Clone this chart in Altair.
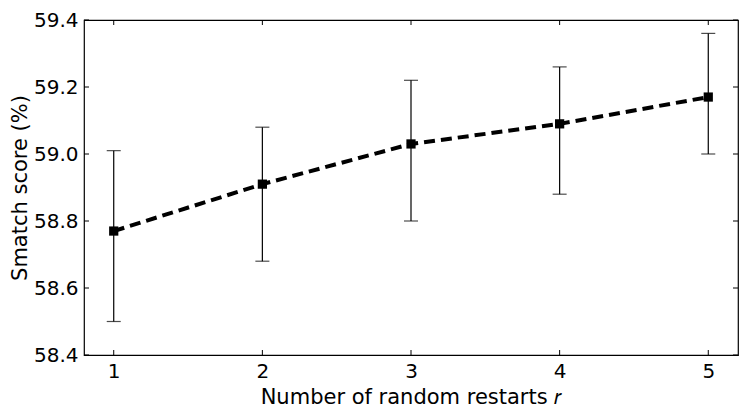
import altair as alt
import pandas as pd

restarts = [1, 2, 3, 4, 5]
score = [58.77, 58.91, 59.03, 59.09, 59.17]
err_lo = [58.50, 58.68, 58.80, 58.88, 59.00]
err_hi = [59.01, 59.08, 59.22, 59.26, 59.36]

x_ticks = [1, 2, 3, 4, 5]
y_ticks = [58.4, 58.6, 58.8, 59.0, 59.2, 59.4]

W, H = 654, 335
FONT = "DejaVu Sans"
TL = 5

df = pd.DataFrame({"r": restarts, "s": score, "lo": err_lo, "hi": err_hi})
dfx = pd.DataFrame({"t": x_ticks})
dfy = pd.DataFrame({"t": y_ticks})

xs = alt.Scale(domain=[0.8, 5.2], nice=False, zero=False)
ys = alt.Scale(domain=[58.4, 59.4], nice=False, zero=False)

xaxis = alt.Axis(values=x_ticks, format="d", ticks=False, domain=False, grid=False,
                 labelFont=FONT, labelFontSize=20, labelColor="#000", labelPadding=6,
                 title="Number of random restarts 𝑟", titleFont=FONT, titleFontSize=21,
                 titleFontWeight="normal", titleColor="#000", titlePadding=5)
yaxis = alt.Axis(values=y_ticks, format=".1f", ticks=False, domain=False, grid=False,
                 labelFont=FONT, labelFontSize=20, labelColor="#000", labelPadding=6,
                 title="Smatch score (%)", titleFont=FONT, titleFontSize=21,
                 titleFontWeight="normal", titleColor="#000", titlePadding=3)

base = alt.Chart(df)

bars = base.mark_rule(color="black", strokeWidth=1.2).encode(
    x=alt.X("r:Q", scale=xs, axis=xaxis),
    y=alt.Y("lo:Q", scale=ys, axis=yaxis),
    y2="hi:Q",
)
cap_lo = base.mark_tick(color="black", orient="horizontal", size=14, thickness=1.2).encode(
    x=alt.X("r:Q", scale=xs), y=alt.Y("lo:Q", scale=ys))
cap_hi = base.mark_tick(color="black", orient="horizontal", size=14, thickness=1.2).encode(
    x=alt.X("r:Q", scale=xs), y=alt.Y("hi:Q", scale=ys))
line = base.mark_line(color="black", strokeWidth=4, strokeDash=[11, 6]).encode(
    x=alt.X("r:Q", scale=xs), y=alt.Y("s:Q", scale=ys))
pts = base.mark_square(color="black", size=85, opacity=1, filled=True).encode(
    x=alt.X("r:Q", scale=xs), y=alt.Y("s:Q", scale=ys))

tk = dict(color="black", strokeWidth=1)
bt = alt.Chart(dfx).mark_rule(**tk).encode(x=alt.X("t:Q", scale=xs), y=alt.value(H), y2=alt.value(H - TL))
tt = alt.Chart(dfx).mark_rule(**tk).encode(x=alt.X("t:Q", scale=xs), y=alt.value(0), y2=alt.value(TL))
lt = alt.Chart(dfy).mark_rule(**tk).encode(y=alt.Y("t:Q", scale=ys), x=alt.value(0), x2=alt.value(TL))
rt = alt.Chart(dfy).mark_rule(**tk).encode(y=alt.Y("t:Q", scale=ys), x=alt.value(W), x2=alt.value(W - TL))

chart = alt.layer(bars, cap_lo, cap_hi, line, pts, bt, tt, lt, rt).properties(
    width=W, height=H,
    background="white",
    autosize=alt.AutoSizeParams(type="none"),
    padding={"left": 76, "top": 12, "right": 1, "bottom": 53},
).configure_view(stroke="black", strokeWidth=1.2)

chart.save("out.html", embed_options={"renderer": "svg", "actions": False})
